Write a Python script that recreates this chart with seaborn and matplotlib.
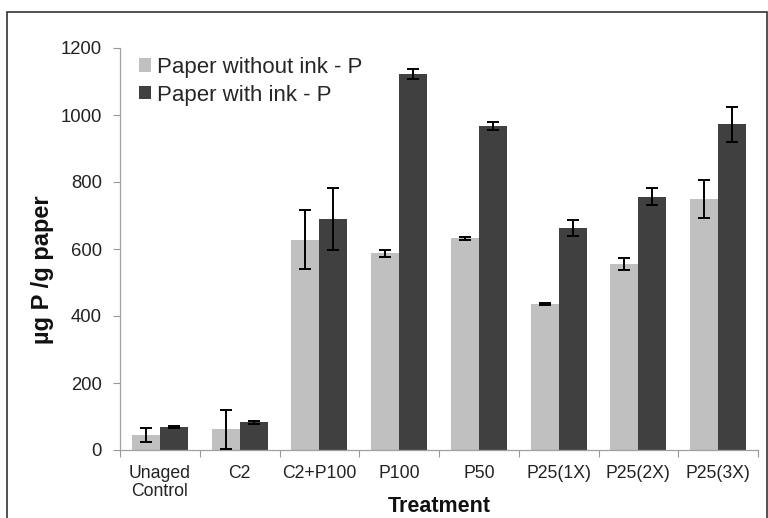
import matplotlib
matplotlib.use("Agg")
import matplotlib.pyplot as plt
import seaborn as sns
import pandas as pd
import numpy as np
from matplotlib.patches import Rectangle

categories = ["Unaged\nControl", "C2", "C2+P100", "P100", "P50", "P25(1X)", "P25(2X)", "P25(3X)"]
series_names = ["Paper without ink - P", "Paper with ink - P"]
without_ink = [45, 62, 628, 587, 632, 435, 555, 750]
without_ink_err = [22, 58, 87, 10, 5, 3, 18, 57]
with_ink = [70, 83, 690, 1122, 968, 663, 756, 972]
with_ink_err = [3, 4, 92, 15, 12, 23, 26, 52]
yticks = [0, 200, 400, 600, 800, 1000, 1200]

df = pd.DataFrame({
    "Treatment": categories * 2,
    "value": without_ink + with_ink,
    "series": [series_names[0]] * len(categories) + [series_names[1]] * len(categories),
})

sns.set_theme(style="white")
plt.rcParams["font.family"] = ["Liberation Sans", "DejaVu Sans"]

fig = plt.figure(figsize=(7.68, 5.18), dpi=100)
ax = fig.add_axes([120 / 768, 1 - 450 / 518, 638 / 768, 402 / 518])

sns.barplot(data=df, x="Treatment", y="value", hue="series", order=categories,
            hue_order=series_names, palette=["#c0c0c0", "#404040"], width=0.7,
            saturation=1, ax=ax, errorbar=None, edgecolor="none")

errs = [without_ink_err, with_ink_err]
vals = [without_ink, with_ink]
bar_containers = list(ax.containers)
for i, cont in enumerate(bar_containers):
    xs = [p.get_x() + p.get_width() / 2 for p in cont.patches]
    ax.errorbar(xs, vals[i], yerr=errs[i], fmt="none", ecolor="black",
                elinewidth=1.4, capsize=4, capthick=1.4, zorder=5)

ax.set_ylim(0, 1200)
ax.set_yticks(yticks)
ax.set_xlim(-0.5, len(categories) - 0.5)
ax.tick_params(axis="y", labelsize=13.3, colors="#222222", left=True, length=5,
               color="#999999", width=0.8, pad=8)
ax.tick_params(axis="x", labelsize=12.7, colors="#222222", bottom=False, pad=5)
ax.set_xticks(np.arange(-0.5, len(categories), 1.0), minor=True)
ax.tick_params(axis="x", which="minor", bottom=True, length=5, color="#999999", width=0.8)
for lab in ax.get_xticklabels():
    lab.set_linespacing(1.05)

for s in ["top", "right"]:
    ax.spines[s].set_visible(False)
for s in ["left", "bottom"]:
    ax.spines[s].set_color("#a0a0a0")
    ax.spines[s].set_linewidth(0.9)

ax.set_ylabel("µg P /g paper", fontsize=17, fontweight="bold", color="#111111")
ax.yaxis.set_label_coords(-0.1207, 0.448)
ax.yaxis.label.set_va("center")
ax.set_xlabel("Treatment", fontsize=15.5, fontweight="bold", color="#111111")
ax.xaxis.set_label_coords(0.5, -0.155)
ax.xaxis.label.set_va("baseline")

leg = ax.legend(loc="upper left", frameon=False, fontsize=16, handlelength=0.55,
                handleheight=0.55, handletextpad=0.25, labelspacing=0.3,
                borderaxespad=0, bbox_to_anchor=(0.016, 1.0))

fig.patches.append(Rectangle((7 / 768, -0.05), 760 / 768, 1.05 - 12 / 518,
                             transform=fig.transFigure, fill=False,
                             edgecolor="#333333", linewidth=1.2))

fig.savefig("out.png", dpi=100)
